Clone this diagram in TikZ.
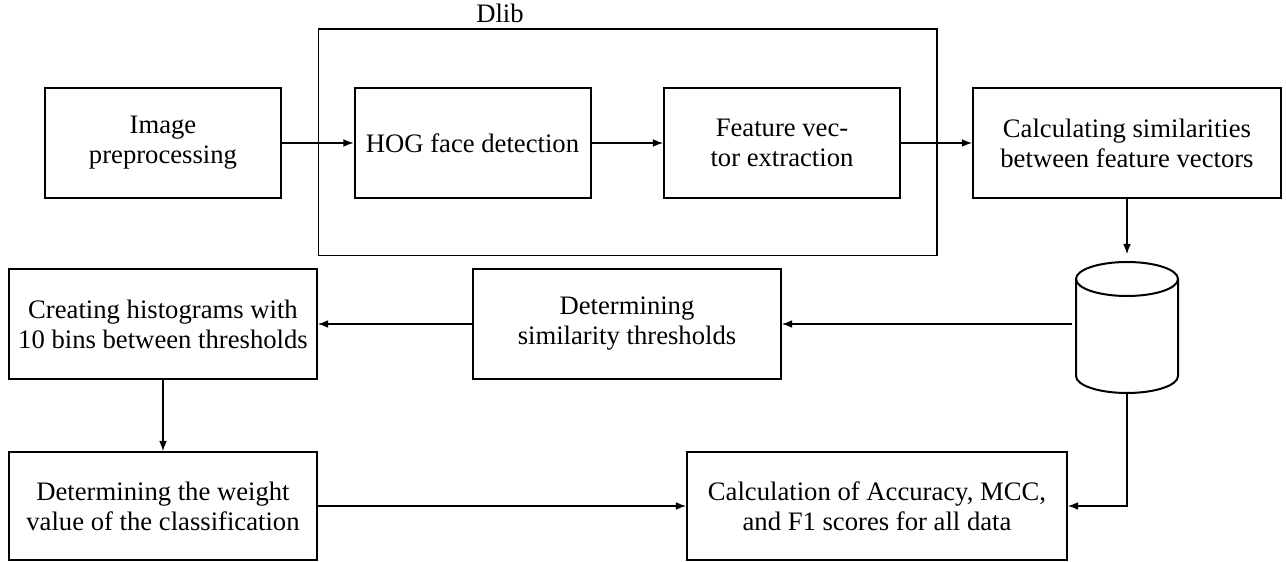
\documentclass[tikz,border=0pt]{standalone}
\usepackage{fontspec}
\setmainfont{Liberation Serif}
\usetikzlibrary{arrows.meta}
\begin{document}
\begin{tikzpicture}[x=0.375pt,y=-0.375pt,
  stage/.style={draw, line width=0.75pt, align=center, inner sep=2pt,
    font=\fontsize{10}{11.25}\selectfont, minimum height=41.25pt},
  narrow/.style={minimum width=88.5pt},
  wide/.style={minimum width=115.5pt},
  flow/.style={line width=0.4pt, -{Latex[length=3.8pt,width=2.9pt]}},
  dbline/.style={line width=0.75pt}]
\useasboundingbox (0,0) rectangle (1286,562);

% Dlib group frame
\node[draw, line width=0.4pt, inner sep=0, minimum width=232.1pt, minimum height=85.1pt] (dlib) at (627.5,142.5) {};
\node[font=\fontsize{10}{11.25}\selectfont] (dliblabel) at (500,13) {Dlib};

% processing stages
\node[stage, narrow] (pre)  at (163,143)   {Image\\preprocessing};
\node[stage, narrow] (hog)  at (472.5,143) {HOG face detection};
\node[stage, narrow] (feat) at (782,143)   {Feature vec-\\tor extraction};
\node[stage, wide]   (calc) at (1127,143)  {Calculating similarities\\between feature vectors};
\node[stage, wide]   (sim)  at (627,324)   {Determining\\similarity thresholds};
\node[stage, wide]   (hist) at (163,324)   {Creating histograms with\\10 bins between thresholds};
\node[stage, wide, minimum height=40.5pt] (weight) at (163,506) {Determining the weight\\value of the classification};
\node[stage, minimum width=142.5pt, minimum height=40.5pt] (acc) at (877,506) {Calculation of Accuracy, MCC,\\and F1 scores for all data};

% database cylinder
\node[minimum width=38.25pt, minimum height=49.1pt, inner sep=0, outer sep=0] (db) at (1127,327.5) {};
\draw[dbline] (1127,279) ellipse [x radius=19.125pt, y radius=6.375pt];
\draw[dbline] (1076,279) -- (1076,376)
  arc[start angle=180, end angle=360, x radius=19.125pt, y radius=6.375pt] -- (1178,279);

% connectors
\draw[flow] (pre) -- (hog);
\draw[flow] (hog) -- (feat);
\draw[flow] (feat) -- (calc);
\draw[flow, shorten >=3pt] (calc) -- (db);
\draw[flow, shorten <=1.5pt] (db.west |- sim) -- (sim);
\draw[flow] (sim) -- (hist);
\draw[flow] (hist) -- (weight);
\draw[flow] (weight) -- (acc);
\draw[flow] (db.south) |- (acc);
\end{tikzpicture}
\end{document}
